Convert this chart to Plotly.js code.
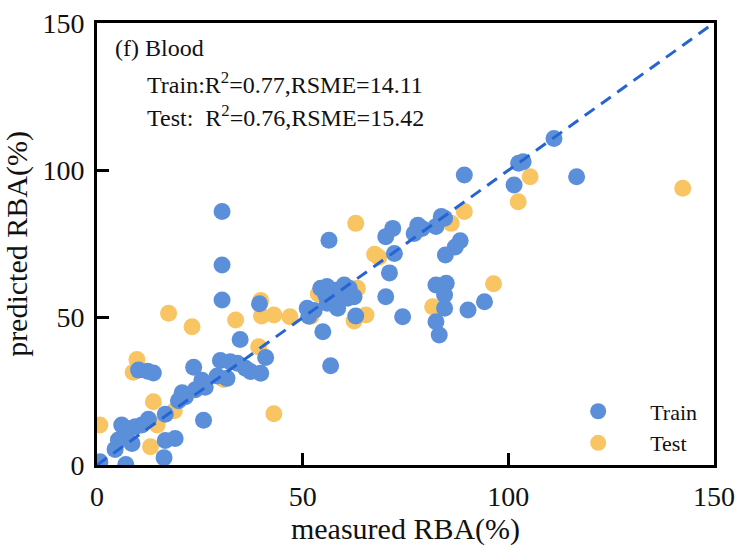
<!DOCTYPE html>
<html>
<head>
<meta charset="utf-8">
<script src="https://cdn.plot.ly/plotly-3.0.1.min.js"></script>
<style>
  html, body { margin: 0; padding: 0; background: #fff; }
  #chart { width: 740px; height: 555px; }
</style>
</head>
<body>
<div id="chart"></div>
<script>
// Measured vs. predicted RBA (%) for blood, training and test samples
const trainMeasured = [
  0.7, 7.0, 16.3, 16.6, 19.0, 10.1, 12.3, 13.7, 6.0, 8.0,
  9.3, 10.9, 6.8, 5.2, 4.4, 8.5, 12.5, 16.6, 20.7, 21.5,
  19.8, 23.5, 25.9, 26.3, 25.5, 23.9, 30.0, 32.4, 34.1, 36.1,
  37.3, 29.2, 31.6, 39.8, 41.0, 34.8, 30.4, 30.4, 30.4, 39.5,
  54.9, 56.8, 51.1, 51.5, 55.6, 56.0, 52.8, 54.4, 55.9, 58.0,
  60.1, 61.3, 60.9, 58.9, 56.8, 58.5, 62.5, 62.9, 56.4, 71.9,
  70.2, 78.0, 77.1, 79.0, 72.3, 71.1, 70.2, 74.3, 84.5, 82.4,
  83.7, 88.3, 87.1, 84.7, 82.4, 84.9, 84.5, 84.5, 82.4, 83.2,
  90.2, 94.2, 89.3, 101.4, 102.5, 103.6, 111.1, 116.6
];
const trainPredicted = [
  1.1, 0.2, 2.5, 8.3, 9.0, 32.2, 31.8, 31.2, 13.6, 12.4,
  13.0, 13.6, 11.3, 8.5, 5.3, 7.3, 15.5, 17.2, 24.5, 23.2,
  21.8, 33.2, 15.2, 26.4, 28.8, 25.5, 35.5, 35.0, 34.5, 32.8,
  31.7, 30.2, 29.4, 31.1, 36.5, 42.6, 56.0, 67.9, 86.0, 54.7,
  45.2, 33.7, 53.2, 50.5, 57.7, 54.9, 52.4, 60.0, 60.6, 59.3,
  61.1, 60.0, 56.6, 57.1, 56.0, 53.2, 57.1, 50.6, 76.3, 80.3,
  77.5, 81.4, 78.6, 80.3, 71.8, 65.2, 57.1, 50.3, 83.7, 80.9,
  84.3, 76.1, 74.0, 71.3, 61.1, 61.7, 57.7, 53.2, 48.6, 44.1,
  52.6, 55.4, 98.4, 95.0, 102.4, 102.9, 110.8, 97.8
];

const testMeasured = [
  0.7, 9.7, 8.8, 17.4, 23.1, 13.7, 14.6, 13.0, 18.8, 5.2,
  39.3, 33.7, 39.8, 40.0, 43.0, 46.9, 43.0, 52.0, 53.8, 62.5,
  63.3, 65.4, 62.9, 67.5, 68.5, 81.6, 86.1, 89.3, 96.4, 102.4,
  105.3, 142.4, 30.8
];
const testPredicted = [
  13.6, 35.8, 31.5, 51.5, 46.9, 21.5, 13.6, 6.2, 18.4, 8.5,
  40.1, 49.2, 55.8, 50.6, 50.9, 50.3, 17.4, 50.5, 58.0, 48.9,
  60.0, 50.9, 82.0, 71.5, 70.5, 53.7, 82.0, 86.0, 61.5, 89.3,
  97.8, 93.9, 29.0
];

// 1:1 reference line
const refLine = [0, 150];

const axisTicks = [0, 50, 100, 150];

const serif = "'Liberation Serif', 'Times New Roman', serif";

const traces = [
  {
    x: testMeasured, y: testPredicted,
    type: 'scatter', mode: 'markers', name: 'Test',
    legendrank: 2, legendgroup: 'b',
    marker: { color: '#F9C562', size: 17, line: { width: 0 } },
    hoverinfo: 'x+y'
  },
  {
    x: trainMeasured, y: trainPredicted,
    type: 'scatter', mode: 'markers', name: 'Train',
    legendrank: 1, legendgroup: 'a',
    marker: { color: '#5C8FD9', size: 17, line: { width: 0 } },
    hoverinfo: 'x+y'
  },
  {
    x: refLine, y: refLine,
    type: 'scatter', mode: 'lines', showlegend: false,
    line: { color: '#2565D3', width: 3, dash: '12px,8px' },
    hoverinfo: 'skip'
  }
];

const axisCommon = {
  range: [0, 150],
  tickvals: axisTicks,
  ticks: 'inside',
  ticklen: 12,
  tickwidth: 3,
  tickcolor: '#000',
  showline: true,
  linecolor: '#000',
  linewidth: 3,
  mirror: true,
  showgrid: false,
  zeroline: false,
  tickfont: { family: serif, size: 28, color: '#111' },
  fixedrange: true
};

const layout = {
  width: 740,
  height: 555,
  margin: { l: 97, r: 26, t: 23, b: 90 },
  paper_bgcolor: '#fff',
  plot_bgcolor: '#fff',
  showlegend: true,
  xaxis: Object.assign({}, axisCommon, {
    ticklabelstandoff: 4,
    title: { text: 'measured RBA(%)', font: { family: serif, size: 30, color: '#111' }, standoff: 0 }
  }),
  yaxis: Object.assign({}, axisCommon, {
    ticklabelstandoff: 4,
    title: { text: 'predicted RBA(%)', font: { family: serif, size: 30, color: '#111' }, standoff: 17 }
  }),
  legend: {
    x: 0.728, y: 0.085, xanchor: 'left', yanchor: 'middle',
    bgcolor: 'rgba(0,0,0,0)',
    font: { family: serif, size: 22, color: '#111' },
    itemwidth: 94,
    tracegroupgap: 0,
    traceorder: 'grouped'
  },
  annotations: [
    {
      xref: 'x', yref: 'y', x: 3.9, y: 141.5, xanchor: 'left', yanchor: 'middle',
      text: '(f) Blood', showarrow: false,
      font: { family: serif, size: 24, color: '#111' }
    },
    {
      xref: 'x', yref: 'y', x: 11.7, y: 129.6, xanchor: 'left', yanchor: 'middle',
      text: 'Train:R<sup>2</sup>=0.77,RSME=14.11', showarrow: false,
      font: { family: serif, size: 24, color: '#111' }
    },
    {
      xref: 'x', yref: 'y', x: 11.7, y: 118.4, xanchor: 'left', yanchor: 'middle',
      text: 'Test:\u00a0\u00a0R<sup>2</sup>=0.76,RSME=15.42', showarrow: false,
      font: { family: serif, size: 24, color: '#111' }
    }
  ]
};

Plotly.newPlot('chart', traces, layout, { displayModeBar: false, staticPlot: true });
</script>
</body>
</html>
